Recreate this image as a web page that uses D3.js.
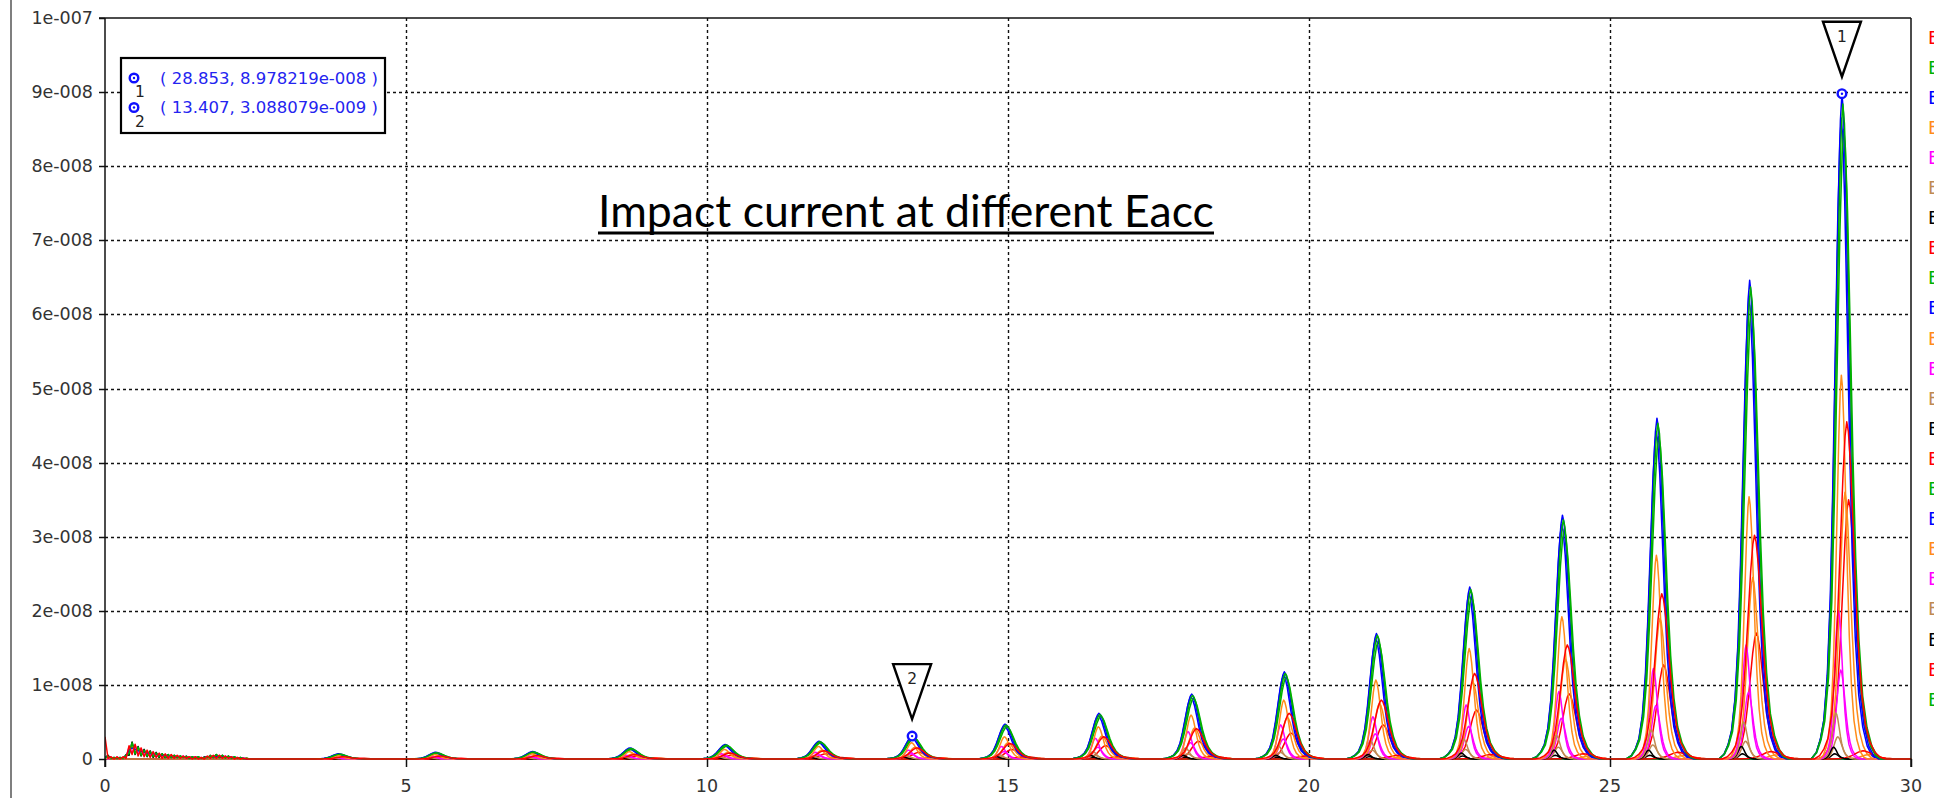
<!DOCTYPE html>
<html>
<head>
<meta charset="utf-8">
<script src="https://cdn.jsdelivr.net/npm/d3@7"></script>
<style>
  html, body { margin: 0; padding: 0; background: #fff; overflow: hidden; }
  svg { display: block; }
</style>
</head>
<body>
<svg id="chart" width="1952" height="798"></svg>
<script>
// ---- axis ticks ----
const xTicks = [0, 5, 10, 15, 20, 25, 30];
const xTickLabels = ["0", "5", "10", "15", "20", "25", "30"];
const yTicks = [0, 1e-8, 2e-8, 3e-8, 4e-8, 5e-8, 6e-8, 7e-8, 8e-8, 9e-8, 1e-7];
const yTickLabels = ["0", "1e-008", "2e-008", "3e-008", "4e-008", "5e-008", "6e-008", "7e-008", "8e-008", "9e-008", "1e-007"];

// ---- series names (one per Eacc run) ----
const seriesNames = [
  "Eacc_01", "Eacc_02", "Eacc_03", "Eacc_04", "Eacc_05", "Eacc_06", "Eacc_07", "Eacc_08",
  "Eacc_09", "Eacc_10", "Eacc_11", "Eacc_12", "Eacc_13", "Eacc_14", "Eacc_15", "Eacc_16",
  "Eacc_17", "Eacc_18", "Eacc_19", "Eacc_20", "Eacc_21", "Eacc_22", "Eacc_23"
];

// ---- impact bursts: centre of each burst group ----
const groupCenters = [3.88, 5.49, 7.10, 8.72, 10.30, 11.86, 13.407, 14.95, 16.51, 18.05, 19.59, 21.12, 22.67, 24.21, 25.78, 27.32, 28.853];

// normalised burst shape: [offset, relative height]
const peakProfile = [
  [-0.60, 0], [-0.50, 0.01], [-0.42, 0.03], [-0.35, 0.06], [-0.28, 0.13], [-0.22, 0.25],
  [-0.17, 0.42], [-0.12, 0.63], [-0.07, 0.84], [-0.03, 0.96], [0, 1], [0.03, 0.97],
  [0.07, 0.87], [0.12, 0.68], [0.17, 0.48], [0.22, 0.32], [0.28, 0.19], [0.35, 0.10],
  [0.43, 0.05], [0.52, 0.02], [0.62, 0.005], [0.72, 0]
];

// burst offset from the group centre and burst width factor, per series
const seriesShift  = [0.08, 0.015, 0, -0.01, -0.06, -0.10, -0.14, 0.35, 0.03, -0.012, 0.05, -0.02, -0.07, -0.12, 0.11, 0, 0, 0.45, 0, 0, 0, 0, 0];
const seriesSpread = [0.90, 0.88, 0.85, 0.60, 0.50, 0.45, 0.40, 1.10, 0.90, 0.83, 0.70, 0.55, 0.50, 0.45, 0.85, 0.8, 0.8, 1.0, 0.8, 0.8, 0.8, 0.8, 0.8];

// burst peak heights per series (units of 1e-9 A)
const h01 = [0.3, 0.4, 0.45, 0.6, 0.8, 1.1, 1.5, 2.1, 3.0, 4.1, 6.16, 7.95, 11.55, 15.4, 22.3, 30.2, 45.5];
const h02 = [0.65, 0.85, 0.95, 1.42, 1.88, 2.33, 3.0, 4.58, 6.02, 8.58, 11.55, 16.7, 22.9, 32.3, 45.3, 63.7, 88.4];
const h03 = [0.7, 0.9, 1.0, 1.5, 1.95, 2.4, 3.088079, 4.7, 6.16, 8.76, 11.77, 16.94, 23.22, 32.9, 46.0, 64.6, 89.78219];
const h04 = [0.45, 0.6, 0.7, 1.0, 1.3, 1.7, 2.2, 3.0, 4.35, 5.93, 7.95, 10.65, 14.9, 19.2, 27.5, 35.4, 51.8];
const h05 = [0.25, 0.35, 0.4, 0.5, 0.7, 0.9, 1.2, 1.7, 2.8, 3.7, 4.6, 5.7, 7.3, 9.1, 12.2, 15.4, 20.0];
const h06 = [0.15, 0.2, 0.2, 0.25, 0.3, 0.4, 0.5, 0.6, 1.0, 1.5, 1.8, 2.5, 2.7, 3.2, 3.9, 5.0, 6.2];
const h07 = [0.1, 0.1, 0.1, 0.15, 0.2, 0.2, 0.25, 0.3, 0.5, 0.5, 0.5, 0.6, 0.8, 1.2, 1.2, 1.7, 1.6];
const h08 = [0.1, 0.1, 0.1, 0.15, 0.15, 0.2, 0.2, 0.3, 0.3, 0.4, 0.4, 0.5, 0.6, 0.7, 0.9, 1.0, 1.1];
const h09 = [0.55, 0.75, 0.85, 1.3, 1.75, 2.2, 2.85, 4.35, 5.75, 8.2, 11.05, 15.9, 21.9, 31.0, 43.5, 61.2, 85.0];
const h10 = [0.6, 0.8, 0.9, 1.35, 1.8, 2.25, 2.9, 4.45, 5.85, 8.35, 11.25, 16.2, 22.3, 31.6, 44.2, 62.3, 86.5];
const h11 = [0.3, 0.4, 0.5, 0.7, 0.9, 1.2, 1.6, 2.2, 3.1, 4.2, 5.6, 7.5, 10.4, 13.5, 19.0, 24.5, 36.0];
const h12 = [0.15, 0.2, 0.25, 0.3, 0.45, 0.55, 0.7, 1.0, 1.6, 2.2, 2.7, 3.4, 4.4, 5.5, 7.2, 9.0, 12.0];
const h13 = [0.1, 0.1, 0.1, 0.15, 0.15, 0.2, 0.25, 0.3, 0.5, 0.7, 0.9, 1.2, 1.3, 1.6, 1.9, 2.4, 3.0];
const h14 = [0.05, 0.05, 0.05, 0.1, 0.1, 0.1, 0.15, 0.15, 0.2, 0.25, 0.25, 0.3, 0.4, 0.5, 0.5, 0.7, 0.7];
const h15 = [0.2, 0.25, 0.3, 0.4, 0.5, 0.7, 0.9, 1.3, 1.8, 2.4, 3.5, 4.6, 6.6, 8.8, 12.7, 17.0, 35.0];
const h16 = [0, 0, 0, 0, 0, 0, 0, 0, 0, 0, 0, 0, 0, 0, 0, 0, 0];
const h17 = [0, 0, 0, 0, 0, 0, 0, 0, 0, 0, 0, 0, 0, 0, 0, 0, 0];
const h18 = [0.05, 0.05, 0.05, 0.1, 0.1, 0.1, 0.15, 0.15, 0.2, 0.2, 0.25, 0.3, 0.35, 0.4, 0.5, 0.55, 0.6];
const h19 = [0, 0, 0, 0, 0, 0, 0, 0, 0, 0, 0, 0, 0, 0, 0, 0, 0];
const h20 = [0, 0, 0, 0, 0, 0, 0, 0, 0, 0, 0, 0, 0, 0, 0, 0, 0];
const h21 = [0, 0, 0, 0, 0, 0, 0, 0, 0, 0, 0, 0, 0, 0, 0, 0, 0];
const h22 = [0, 0, 0, 0, 0, 0, 0, 0, 0, 0, 0, 0, 0, 0, 0, 0, 0];
const h23 = [0, 0, 0, 0, 0, 0, 0, 0, 0, 0, 0, 0, 0, 0, 0, 0, 0];

// start-up transient (0 .. 2.4), units of 1e-10 A
const earlyX = [0, 0.05, 0.1, 0.15, 0.2, 0.25, 0.3, 0.35, 0.4, 0.45, 0.5, 0.55, 0.6, 0.65, 0.7, 0.75, 0.8,
  0.85, 0.9, 0.95, 1.0, 1.05, 1.1, 1.15, 1.2, 1.25, 1.3, 1.35, 1.4, 1.45, 1.5, 1.55, 1.6, 1.65, 1.7,
  1.75, 1.8, 1.85, 1.9, 1.95, 2.0, 2.05, 2.1, 2.15, 2.2, 2.25, 2.3, 2.35, 2.4];
const e01 = [30,1,3,0,3,0,3,1,18,6,20,4,15,3,12,2,10,2,8,1,7,1,6,1,5,1,4,1,3,0,3,0,2,0,4,1,5,1,5,1,4,1,3,0,2,0,1,0,0];
const e02 = [1,4,1,2,1,2,1,5,7,22,7,16,5,12,4,10,3,8,3,7,2,6,2,5,2,4,2,3,1,3,1,3,1,2,2,4,2,6,2,5,1,4,1,3,1,2,0,1,0];
const e03 = [2,3,2,1,2,1,2,4,12,15,13,11,10,9,8,7,7,6,5,5,5,4,4,3,3,3,3,2,2,2,2,2,1,2,3,3,3,4,3,3,3,3,2,2,1,1,1,0,0];
const e04 = [1,2,1,1,1,1,1,3,10,18,9,14,8,10,7,9,5,7,4,5,4,4,3,4,3,3,2,3,2,2,2,2,1,2,2,4,3,4,3,4,2,3,2,2,1,1,0,1,0];
const e05 = [3,0,2,1,2,1,2,2,16,8,19,6,14,5,11,4,9,3,7,3,6,2,5,2,4,2,4,1,3,1,3,1,2,1,3,2,4,2,5,2,4,1,3,1,2,1,1,0,0];
const e07 = [2,5,0,2,0,2,0,6,5,23,6,17,4,13,3,11,2,9,2,7,1,6,1,5,1,4,1,4,0,3,0,3,0,3,1,5,1,6,1,5,1,4,0,3,0,2,0,1,0];

// probe markers
const markerX = [28.853, 13.407];
const markerY = [8.978219e-8, 3.088079e-9];
const markerIds = ["1", "2"];
const markerTexts = ["( 28.853, 8.978219e-008 )", "( 13.407, 3.088079e-009 )"];

const titleText = "Impact current at different Eacc";

// ------------------------------------------------------------------
const seriesHeights = [h01,h02,h03,h04,h05,h06,h07,h08,h09,h10,h11,h12,h13,h14,h15,h16,h17,h18,h19,h20,h21,h22,h23];
const seriesEarly = [e01,e02,e03,e04,e05,null,e07,null,null,null,null,null,null,null,null,null,null,null,null,null,null,null,null];
const palette = ["#ff0000", "#00b000", "#0000ff", "#ff8c1a", "#ff00ff", "#c08a52", "#000000"];

const svg = d3.select("#chart");
const W = 1952, H = 798;
const plot = { left: 105, right: 1911, top: 18, bottom: 759 };

const x = d3.scaleLinear().domain([0, 30]).range([plot.left, plot.right]);
const y = d3.scaleLinear().domain([0, 1e-7]).range([plot.bottom, plot.top]);

const FONT = "'DejaVu Sans', Verdana, sans-serif";

// window edge on the left
svg.append("line").attr("x1", 11).attr("x2", 11).attr("y1", 0).attr("y2", H)
  .attr("stroke", "#555").attr("stroke-width", 1.5);

// dashed grid
const grid = svg.append("g").attr("stroke", "#111").attr("stroke-width", 1.4).attr("stroke-dasharray", "3,3");
grid.selectAll("line.h").data(yTicks.filter(v => v > 0 && v < 1e-7)).join("line")
  .attr("x1", plot.left).attr("x2", plot.right)
  .attr("y1", d => Math.round(y(d)) + 0.5).attr("y2", d => Math.round(y(d)) + 0.5);
grid.selectAll("line.v").data(xTicks.filter(v => v > 0 && v < 30)).join("line")
  .attr("x1", d => Math.round(x(d)) + 0.5).attr("x2", d => Math.round(x(d)) + 0.5)
  .attr("y1", plot.top).attr("y2", plot.bottom);

// curves
svg.append("clipPath").attr("id", "plotClip").append("rect")
  .attr("x", plot.left).attr("y", plot.top - 2)
  .attr("width", plot.right - plot.left + 1).attr("height", plot.bottom - plot.top + 3);

function seriesPoints(i) {
  const pts = [];
  const early = seriesEarly[i];
  if (early) early.forEach((v, k) => pts.push([earlyX[k], v * 1e-10]));
  else pts.push([0, 0]);
  groupCenters.forEach((c, g) => {
    const hgt = seriesHeights[i][g] * 1e-9;
    if (hgt <= 0) return;
    peakProfile.forEach(([dx, r]) => pts.push([c + seriesShift[i] + dx * seriesSpread[i], hgt * r]));
  });
  pts.push([30, 0]);
  pts.sort((a, b) => a[0] - b[0]);
  return pts;
}

const line = d3.line().x(d => x(d[0])).y(d => y(d[1])).curve(d3.curveLinear);
const curves = svg.append("g").attr("clip-path", "url(#plotClip)");
const order = d3.range(seriesNames.length).reverse();
order.forEach(i => {
  curves.append("path")
    .attr("d", line(seriesPoints(i)))
    .attr("fill", "none")
    .attr("stroke", palette[i % palette.length])
    .attr("stroke-width", 1.5)
    .attr("stroke-linejoin", "round");
});

// frame and axes
const frame = svg.append("g").attr("stroke", "#111").attr("stroke-width", 1.5).attr("fill", "none");
frame.append("line").attr("x1", plot.left).attr("x2", plot.left).attr("y1", plot.top).attr("y2", plot.bottom + 8);
frame.append("line").attr("x1", plot.left - 6).attr("x2", plot.right).attr("y1", plot.top).attr("y2", plot.top);
frame.append("line").attr("x1", plot.right).attr("x2", plot.right).attr("y1", plot.top).attr("y2", plot.bottom + 8);

// y axis ticks + labels
const yAxis = svg.append("g");
yAxis.selectAll("line").data(yTicks).join("line")
  .attr("x1", plot.left - 6).attr("x2", plot.left)
  .attr("y1", d => Math.round(y(d)) + 0.5).attr("y2", d => Math.round(y(d)) + 0.5)
  .attr("stroke", "#111").attr("stroke-width", 1.5);
yAxis.selectAll("text").data(yTicks).join("text")
  .attr("x", 93).attr("y", d => y(d))
  .attr("text-anchor", "end").attr("dominant-baseline", "central")
  .attr("font-family", FONT).attr("font-size", 17.5).attr("fill", "#333")
  .text((d, i) => yTickLabels[i]);

// x axis ticks + labels
const xAxis = svg.append("g");
xAxis.selectAll("line").data(xTicks).join("line")
  .attr("x1", d => Math.round(x(d)) + 0.5).attr("x2", d => Math.round(x(d)) + 0.5)
  .attr("y1", plot.bottom).attr("y2", plot.bottom + 8)
  .attr("stroke", "#111").attr("stroke-width", 1.5);
xAxis.selectAll("text").data(xTicks).join("text")
  .attr("x", d => x(d)).attr("y", 786)
  .attr("text-anchor", "middle").attr("dominant-baseline", "central")
  .attr("font-family", FONT).attr("font-size", 17.5).attr("fill", "#333")
  .text((d, i) => xTickLabels[i]);

// series legend at the right (runs off the window edge)
svg.append("clipPath").attr("id", "legendClip").append("rect")
  .attr("x", 1920).attr("y", 0).attr("width", 14).attr("height", H);
const legend = svg.append("g").attr("clip-path", "url(#legendClip)");
legend.selectAll("text").data(seriesNames).join("text")
  .attr("x", 1928).attr("y", (d, i) => 37 + i * 30.1)
  .attr("dominant-baseline", "central")
  .attr("font-family", FONT).attr("font-size", 18)
  .attr("fill", (d, i) => palette[i % palette.length])
  .text(d => d);

// probe markers on the curves
const markerBlue = "#1010ff";
markerX.forEach((mx, i) => {
  const cx = x(mx), cy = y(markerY[i]);
  const g = svg.append("g");
  g.append("path")
    .attr("d", `M${cx - 19},${cy - 72} L${cx + 19},${cy - 72} L${cx},${cy - 17} Z`)
    .attr("fill", "#fff").attr("stroke", "#000").attr("stroke-width", 2.4)
    .attr("stroke-linejoin", "miter");
  g.append("text").attr("x", cx).attr("y", cy - 57)
    .attr("text-anchor", "middle").attr("dominant-baseline", "central")
    .attr("font-family", FONT).attr("font-size", 15.5).attr("fill", "#222")
    .text(markerIds[i]);
  g.append("circle").attr("cx", cx).attr("cy", cy).attr("r", 4.3)
    .attr("fill", "#fff").attr("stroke", markerBlue).attr("stroke-width", 2.4);
  g.append("circle").attr("cx", cx).attr("cy", cy).attr("r", 1.2).attr("fill", markerBlue);
});

// marker readout box
const box = svg.append("g");
box.append("rect").attr("x", 121).attr("y", 58).attr("width", 264).attr("height", 75)
  .attr("fill", "#fff").attr("stroke", "#000").attr("stroke-width", 2.2);
markerTexts.forEach((t, i) => {
  const cy = 78 + i * 29.5;
  box.append("circle").attr("cx", 134).attr("cy", cy).attr("r", 4.3)
    .attr("fill", "#fff").attr("stroke", markerBlue).attr("stroke-width", 2.4);
  box.append("circle").attr("cx", 134).attr("cy", cy).attr("r", 1.2).attr("fill", markerBlue);
  box.append("text").attr("x", 140).attr("y", cy + 14)
    .attr("text-anchor", "middle").attr("dominant-baseline", "central")
    .attr("font-family", FONT).attr("font-size", 15.5).attr("fill", "#222")
    .text(markerIds[i]);
  box.append("text").attr("x", 160).attr("y", cy)
    .attr("dominant-baseline", "central")
    .attr("font-family", FONT).attr("font-size", 16.5).attr("fill", "#2424f0")
    .text(t);
});

// title with underline
const tx = 598, tWidth = 616, tBase = 227;
const title = svg.append("text").attr("x", tx).attr("y", tBase)
  .attr("font-family", "Lato, 'Open Sans', sans-serif").attr("font-size", 48)
  .attr("fill", "#000").text(titleText);
const tw = title.node().getComputedTextLength();
title.attr("font-size", 48 * tWidth / tw);
svg.append("line").attr("x1", tx).attr("x2", tx + tWidth).attr("y1", tBase + 6).attr("y2", tBase + 6)
  .attr("stroke", "#000").attr("stroke-width", 3);
</script>
</body>
</html>
